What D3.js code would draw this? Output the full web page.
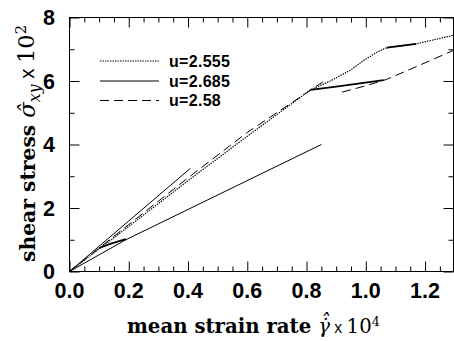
<!DOCTYPE html>
<html><head><meta charset="utf-8">
<script src="https://cdn.jsdelivr.net/npm/d3@7"></script>
<style>body{margin:0;background:#fff}svg{display:block}</style>
</head><body><svg id="c" width="454" height="341"></svg>
<script>
// Axis ticks and labels
const xMajorTicks = [0, 0.2, 0.4, 0.6, 0.8, 1.0, 1.2];
const xTickLabels = ["0.0", "0.2", "0.4", "0.6", "0.8", "1.0", "1.2"];
const xMinorTicks = [0.05, 0.1, 0.15, 0.25, 0.3, 0.35, 0.45, 0.5, 0.55, 0.65, 0.7, 0.75,
                     0.85, 0.9, 0.95, 1.05, 1.1, 1.15, 1.25];
const yMajorTicks = [0, 2, 4, 6, 8];
const yTickLabels = ["0", "2", "4", "6", "8"];
const yMinorTicks = [1, 3, 5, 7];

// Legend entries
const legendLabels = ["u=2.555", "u=2.685", "u=2.58"];

// Series: [mean strain rate (x1e4), shear stress (x1e2)]
const u2555 = [[0, 0], [0.2, 1.42], [0.4, 2.86], [0.6, 4.26], [0.813, 5.72], [0.88, 6.0],
               [0.95, 6.35], [0.995, 6.66], [1.04, 6.92], [1.071, 7.05], [1.17, 7.17], [1.3, 7.45]];
const u2580a = [[0, 0], [0.2, 1.48], [0.4, 2.95], [0.6, 4.38], [0.855, 5.97]];
const u2580b = [[0.92, 5.65], [1.0, 5.85], [1.07, 6.05], [1.17, 6.45], [1.3, 6.98]];
const u2685a = [[0.1, 0.74], [0.14, 0.88], [0.19, 1.02]];
const u2685b = [[0.813, 5.72], [0.9, 5.82], [1.06, 6.03]];
const u2685c = [[1.071, 7.05], [1.17, 7.17]];
const steepBranch = [[0, 0], [0.408, 3.25]];
const lowBranch = [[0, 0], [0.19, 1.0], [0.85, 4.0]];

const svg = d3.select("#c");
const plotLeft = 69.5, plotRight = 454.7, plotTop = 17.5, plotBottom = 271.5, frameRight = 453.5;
const x = d3.scaleLinear().domain([0, 1.3]).range([plotLeft, plotRight]);
const y = d3.scaleLinear().domain([0, 8]).range([plotBottom, plotTop]);

const ink = "#000";

// Frame
svg.append("rect").attr("x", plotLeft).attr("y", plotTop)
  .attr("width", frameRight - plotLeft).attr("height", plotBottom - plotTop)
  .attr("fill", "none").attr("stroke", ink).attr("stroke-width", 1);

// Inward ticks on all four sides
function ticks(axisFn, scale, values, size, transform) {
  const g = svg.append("g").attr("transform", transform)
    .call(axisFn(scale).tickValues(values).tickSizeInner(size).tickSizeOuter(0).tickFormat(""));
  g.select(".domain").remove();
  g.selectAll("line").attr("stroke", ink).attr("stroke-width", 1);
  return g;
}
ticks(d3.axisBottom, x, xMajorTicks, -10, `translate(0,${plotBottom})`);
ticks(d3.axisBottom, x, xMinorTicks, -5, `translate(0,${plotBottom})`);
ticks(d3.axisTop, x, xMajorTicks, -10, `translate(0,${plotTop})`);
ticks(d3.axisTop, x, xMinorTicks, -5, `translate(0,${plotTop})`);
ticks(d3.axisLeft, y, yMajorTicks, -10, `translate(${plotLeft},0)`);
ticks(d3.axisLeft, y, yMinorTicks, -5, `translate(${plotLeft},0)`);
ticks(d3.axisRight, y, yMajorTicks, -10, `translate(${frameRight},0)`);
ticks(d3.axisRight, y, yMinorTicks, -5, `translate(${frameRight},0)`);

// Tick labels
const tickFont = "'Liberation Sans', Arial, sans-serif";
svg.append("g").selectAll("text").data(xMajorTicks).join("text")
  .attr("x", d => x(d)).attr("y", 298)
  .attr("text-anchor", "middle")
  .attr("font-family", tickFont).attr("font-weight", "bold").attr("font-size", 21.5)
  .text((d, i) => xTickLabels[i]);
svg.append("g").selectAll("text").data(yMajorTicks).join("text")
  .attr("x", 55).attr("y", d => y(d)).attr("dy", "0.36em")
  .attr("text-anchor", "end")
  .attr("font-family", tickFont).attr("font-weight", "bold").attr("font-size", 21.5)
  .text((d, i) => yTickLabels[i]);

// Curves
const line = d3.line().x(d => x(d[0])).y(d => y(d[1]));
const styles = {
  dotted: {dash: "1.4,1.1", width: 1.2},
  solid: {dash: null, width: 1},
  thick: {dash: null, width: 1.8},
  dashed: {dash: "9,5", width: 1}
};
function draw(data, st) {
  svg.append("path").datum(data).attr("d", line)
    .attr("fill", "none").attr("stroke", ink)
    .attr("stroke-width", st.width)
    .attr("stroke-dasharray", st.dash);
}
draw(steepBranch, styles.solid);
draw(lowBranch, styles.solid);
draw(u2555, styles.dotted);
draw(u2580a, styles.dashed);
draw(u2580b, styles.dashed);
draw(u2685a, styles.thick);
draw(u2685b, styles.thick);
draw(u2685c, styles.thick);

// Legend
const legendStyles = [styles.dotted, styles.solid, styles.dashed];
const legendRows = [61, 81, 100.5];
legendLabels.forEach((lab, i) => {
  svg.append("line").attr("x1", 100).attr("x2", 159)
    .attr("y1", legendRows[i]).attr("y2", legendRows[i])
    .attr("stroke", ink).attr("stroke-width", legendStyles[i].width)
    .attr("stroke-dasharray", legendStyles[i].dash);
  svg.append("text").attr("x", 169).attr("y", legendRows[i]).attr("dy", "0.37em")
    .attr("font-family", tickFont).attr("font-weight", "bold").attr("font-size", 16)
    .attr("letter-spacing", 0.3)
    .text(lab);
});

// Axis titles
const serif = "'DejaVu Serif', 'Liberation Serif', serif";
function fitWidth(textSel, target) {
  const node = textSel.node();
  const fs = parseFloat(textSel.attr("font-size"));
  const w = node.getComputedTextLength();
  textSel.attr("font-size", fs * target / w);
}

const xt = svg.append("text").attr("x", 127).attr("y", 333)
  .attr("font-family", serif).attr("font-size", 20).attr("fill", ink);
xt.append("tspan").attr("font-weight", "bold").text("mean strain rate ");
xt.append("tspan").attr("font-style", "italic").text("\u03B3\u0307\u0302");
xt.append("tspan").attr("font-family", tickFont).attr("font-size", "0.8em").text(" x ");
xt.append("tspan").text("10");
xt.append("tspan").attr("font-size", "0.65em").attr("dy", "-0.55em").text("4");
fitWidth(xt, 253);

const yt = svg.append("text")
  .attr("transform", "translate(35,262) rotate(-90)")
  .attr("font-family", serif).attr("font-size", 16).attr("fill", ink);
yt.append("tspan").attr("font-weight", "bold").attr("font-size", "0.9em").text("shear stress ");
yt.append("tspan").attr("font-style", "italic").text("\u03C3\u0302");
yt.append("tspan").attr("font-style", "italic").attr("font-size", "0.7em").attr("dy", "0.3em").text("xy");
yt.append("tspan").attr("font-family", tickFont).attr("font-size", "0.9em").attr("dy", "-0.3em").text(" x ");
yt.append("tspan").text("10");
yt.append("tspan").attr("font-size", "0.65em").attr("dy", "-0.55em").text("2");
fitWidth(yt, 237);
</script>
</body></html>
